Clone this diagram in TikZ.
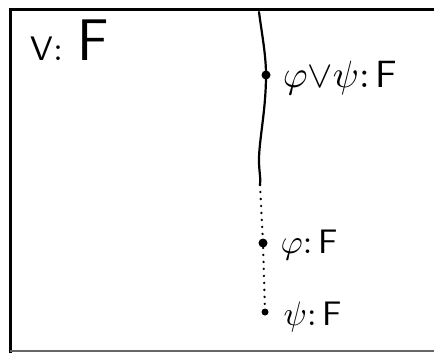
\documentclass[tikz,border=0pt]{standalone}
\begin{document}
\begin{tikzpicture}[x=1pt,y=-1pt,
  frame/.style={line width=3pt},
  branch/.style={line width=2.2pt,line cap=round},
  dotline/.style={line width=2.6pt,line cap=round,dash pattern=on 0pt off 7pt},
  pt/.style={circle,fill=black,inner sep=0pt,minimum size=#1},
  lab/.style={anchor=west,inner sep=0pt,scale=#1},
  lab/.default=3.8]
\useasboundingbox (0,0) rectangle (434,353);
% frame
\draw[frame] (10,353) -- (10,10) -- (434,10);
\draw[line width=2pt,black!60] (10,351) -- (434,351);
% nodes
\coordinate (top) at (259,12);
\node[pt=9pt] (d1) at (266,75) {};
\coordinate (mid) at (260,185);
\node[pt=9pt] (d2) at (263,243) {};
\node[pt=7pt] (d3) at (265,312) {};
% solid wavy branch
\draw[branch] (top) .. controls (262,35) and (266,55) .. (d1.center)
  .. controls (266,110) and (259,140) .. (259,160)
  .. controls (259,172) and (261,178) .. (mid);
% dotted continuation
\draw[dotline] (mid) -- (d2.center) -- (d3.center);
% labels
\node[lab=3.4] (l0) at (30,40) {\textsf{V}${:}\;\,$\textsf{\LARGE F}};
\node[lab] (l1) at (282,78) {$\varphi{\vee}\psi{:}\,$\textsf{F}};
\node[lab=3.4] (l2) at (280,245) {$\varphi{:}\,$\textsf{F}};
\node[lab=3.4] (l3) at (283,317) {$\psi{:}\,$\textsf{F}};
\end{tikzpicture}
\end{document}
